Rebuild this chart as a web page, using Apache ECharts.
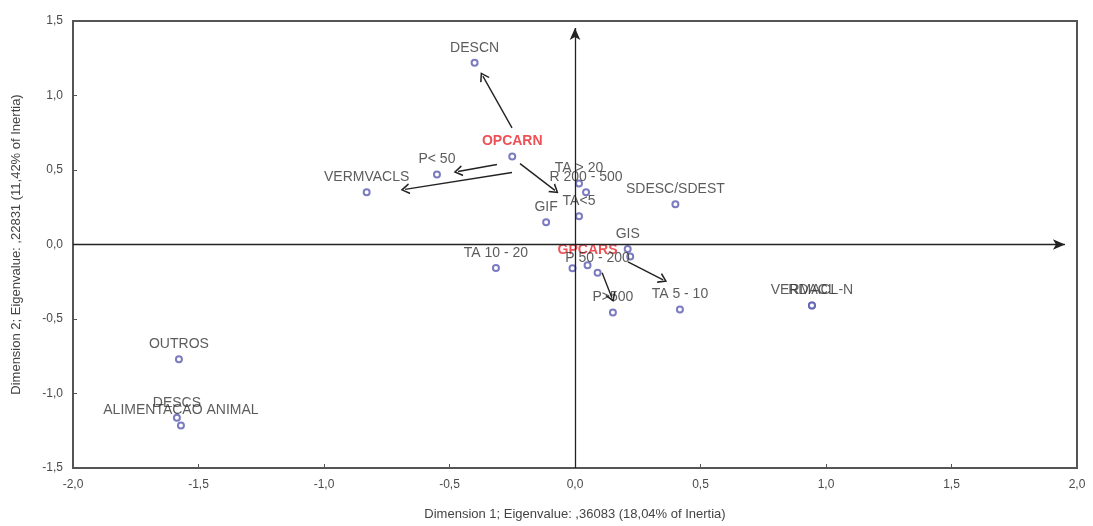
<!DOCTYPE html>
<html lang="en">

<head>
    <meta charset="UTF-8">
    <title>Correspondence analysis</title>
    <script src="https://cdn.jsdelivr.net/npm/echarts@6/dist/echarts.min.js"></script>
    <style>
        html,
        body {
            margin: 0;
            width: 100%;
            height: 100%;
            background: #fff;
        }
    </style>
</head>

<body>
    <div id="chart" style="width: 1093px;height: 526px;"></div>
    <script>
        // points (dimension 1, dimension 2)
        var pointNames = ['DESCN', 'OPCARN', 'P< 50', 'VERMVACLS', 'TA > 20', 'R 200 - 500', 'TA<5', 'GIF',
            'SDESC/SDEST', 'GIS', '', 'TA 10 - 20', 'GPCARS', '', 'P 50 - 200', 'P>500', 'TA 5 - 10',
            'VERMACL-N', 'RDACL', 'OUTROS', 'DESCS', 'ALIMENTACAO ANIMAL'];
        var dim1 = [-0.40, -0.25, -0.55, -0.83, 0.016, 0.044, 0.016, -0.115,
            0.40, 0.21, 0.22, -0.315, 0.05, -0.01, 0.09, 0.151, 0.418,
            0.944, 0.944, -1.578, -1.586, -1.570];
        var dim2 = [1.22, 0.59, 0.47, 0.35, 0.41, 0.35, 0.19, 0.15,
            0.27, -0.03, -0.08, -0.157, -0.14, -0.16, -0.19, -0.457, -0.437,
            -0.41, -0.41, -0.77, -1.163, -1.215];
        // supplementary variables drawn in red
        var redNames = ['OPCARN', 'GPCARS'];

        // arrows between categories
        var arrowFrom = [[-0.251, 0.783], [-0.311, 0.537], [-0.251, 0.483], [-0.219, 0.543], [0.108, -0.19], [0.211, -0.117]];
        var arrowTo = [[-0.367, 1.13], [-0.466, 0.49], [-0.677, 0.37], [-0.080, 0.363], [0.147, -0.357], [0.351, -0.237]];

        var xTicks = { min: -2, max: 2, interval: 0.5 };
        var yTicks = { min: -1.5, max: 1.5, interval: 0.5 };
        var xName = 'Dimension 1; Eigenvalue: ,36083 (18,04% of Inertia)';
        var yName = 'Dimension 2; Eigenvalue: ,22831 (11,42% of Inertia)';

        var font = '"Liberation Sans", Arial, sans-serif';
        var chart = echarts.init(document.getElementById('chart'));

        var points = pointNames.map(function (n, i) {
            var red = redNames.indexOf(n) >= 0;
            return {
                name: n,
                value: [dim1[i], dim2[i]],
                label: red ? { color: '#e8262b', fontWeight: 'bold' } : undefined
            };
        });

        var arrows = arrowFrom.map(function (f, i) {
            return [{ coord: f }, { coord: arrowTo[i] }];
        });

        function commaFmt(v) {
            return v.toFixed(1).replace('.', ',');
        }

        var option = {
            animation: false,
            grid: {
                left: 73, right: 16, top: 21, bottom: 56,
                show: true, borderColor: '#555', borderWidth: 2
            },
            xAxis: {
                type: 'value',
                min: xTicks.min, max: xTicks.max, interval: xTicks.interval,
                name: xName, nameLocation: 'middle', nameGap: 40,
                nameTextStyle: { fontFamily: font, fontSize: 13, color: '#444' },
                axisLine: { show: false, onZero: false },
                axisTick: { show: true, inside: true, length: 4, lineStyle: { color: '#555' } },
                axisLabel: { formatter: commaFmt, fontFamily: font, fontSize: 12, color: '#4a4a4a', margin: 11 },
                splitLine: { show: false }
            },
            yAxis: {
                type: 'value',
                min: yTicks.min, max: yTicks.max, interval: yTicks.interval,
                name: yName, nameLocation: 'middle', nameGap: 50,
                nameTextStyle: { fontFamily: font, fontSize: 13, color: '#444' },
                axisLine: { show: false, onZero: false },
                axisTick: { show: true, inside: true, length: 4, lineStyle: { color: '#555' } },
                axisLabel: { formatter: commaFmt, fontFamily: font, fontSize: 12, color: '#4a4a4a', margin: 10 },
                splitLine: { show: false }
            },
            series: [{
                type: 'scatter',
                data: points,
                symbol: 'emptyCircle',
                symbolSize: 6,
                itemStyle: { color: '#5a5ab0', borderWidth: 1 },
                label: {
                    show: true,
                    position: 'top',
                    distance: 4,
                    formatter: '{b}',
                    fontFamily: font,
                    fontSize: 14,
                    color: '#333'
                },
                z: 3,
                markLine: {
                    silent: true,
                    symbol: ['none', 'arrow'],
                    symbolSize: [8, 12],
                    label: { show: false },
                    lineStyle: { color: '#222', width: 1.3, type: 'solid' },
                    data: [
                        [{ coord: [xTicks.min, 0] }, { coord: [1.952, 0] }],
                        [{ coord: [0, yTicks.min] }, { coord: [0, 1.453] }]
                    ]
                }
            }, {
                type: 'scatter',
                data: [],
                markLine: {
                    silent: true,
                    symbol: ['none', 'path://M0,10 L5,0 L10,10 L8.6,10.6 L5,3.2 L1.4,10.6 Z'],
                    symbolSize: [11, 9],
                    label: { show: false },
                    lineStyle: { color: '#222', width: 1.4, type: 'solid' },
                    itemStyle: { color: '#222' },
                    data: arrows
                }
            }]
        };
        chart.setOption(option);
    </script>
</body>

</html>
